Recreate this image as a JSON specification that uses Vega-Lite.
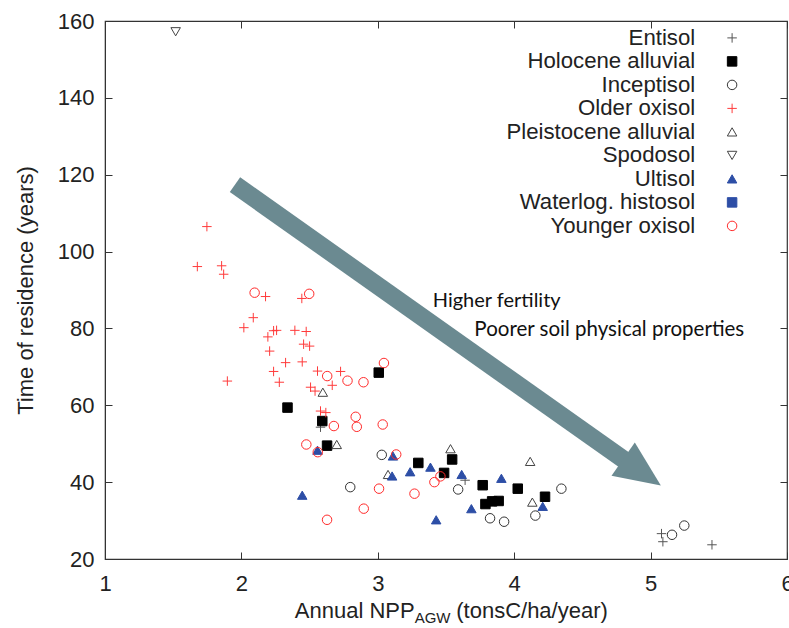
{
  "$schema": "https://vega.github.io/schema/vega-lite/v6.json",
  "width": 682,
  "height": 538,
  "autosize": {"type": "none"},
  "padding": {"left": 105, "top": 21, "right": 2, "bottom": 69},
  "background": "white",
  "config": {
    "view": {"stroke": "#333", "strokeWidth": 1.2},
    "font": "Liberation Sans",
    "axis": {
      "labelFont": "Liberation Sans", "labelFontSize": 22, "labelColor": "#222",
      "titleFont": "Liberation Sans", "titleFontSize": 22, "titleFontWeight": "normal", "titleColor": "#222",
      "domainColor": "#333", "tickColor": "#333", "grid": false, "labelFlush": false, "labelOverlap": false
    },
    "legend": {
      "orient": "none", "legendX": 616, "legendY": 5.8, "title": null,
      "labelAlign": "right", "labelOffset": -48, "labelFont": "Liberation Sans", "labelFontSize": 22.2,
      "labelColor": "#222", "rowPadding": 0.5, "symbolSize": 90, "symbolStrokeWidth": 1, "padding": 0, "labelLimit": 400
    }
  },
  "datasets": {
    "soils": [
      {"soil": "Entisol", "npp": 2.58, "tr": 54.3},
      {"soil": "Entisol", "npp": 3.64, "tr": 40.5},
      {"soil": "Entisol", "npp": 5.08, "tr": 26.6},
      {"soil": "Entisol", "npp": 5.09, "tr": 24.5},
      {"soil": "Entisol", "npp": 5.45, "tr": 23.7},
      {"soil": "Holocene alluvial", "npp": 2.338, "tr": 59.4},
      {"soil": "Holocene alluvial", "npp": 2.593, "tr": 55.9},
      {"soil": "Holocene alluvial", "npp": 2.628, "tr": 49.5},
      {"soil": "Holocene alluvial", "npp": 3.007, "tr": 68.5},
      {"soil": "Holocene alluvial", "npp": 3.297, "tr": 45.0},
      {"soil": "Holocene alluvial", "npp": 3.545, "tr": 45.9},
      {"soil": "Holocene alluvial", "npp": 3.486, "tr": 42.4},
      {"soil": "Holocene alluvial", "npp": 3.769, "tr": 39.2},
      {"soil": "Holocene alluvial", "npp": 4.026, "tr": 38.3},
      {"soil": "Holocene alluvial", "npp": 4.226, "tr": 36.2},
      {"soil": "Holocene alluvial", "npp": 3.789, "tr": 34.3},
      {"soil": "Holocene alluvial", "npp": 3.838, "tr": 35.0},
      {"soil": "Holocene alluvial", "npp": 3.886, "tr": 35.1},
      {"soil": "Inceptisol", "npp": 3.029, "tr": 47.1},
      {"soil": "Inceptisol", "npp": 2.798, "tr": 38.7},
      {"soil": "Inceptisol", "npp": 3.589, "tr": 38.1},
      {"soil": "Inceptisol", "npp": 4.346, "tr": 38.3},
      {"soil": "Inceptisol", "npp": 4.155, "tr": 31.3},
      {"soil": "Inceptisol", "npp": 3.823, "tr": 30.6},
      {"soil": "Inceptisol", "npp": 3.926, "tr": 29.7},
      {"soil": "Inceptisol", "npp": 5.157, "tr": 26.3},
      {"soil": "Inceptisol", "npp": 5.247, "tr": 28.7},
      {"soil": "Older oxisol", "npp": 1.747, "tr": 106.5},
      {"soil": "Older oxisol", "npp": 1.677, "tr": 96.1},
      {"soil": "Older oxisol", "npp": 1.855, "tr": 96.3},
      {"soil": "Older oxisol", "npp": 1.87, "tr": 94.1},
      {"soil": "Older oxisol", "npp": 2.177, "tr": 88.3},
      {"soil": "Older oxisol", "npp": 2.443, "tr": 87.8},
      {"soil": "Older oxisol", "npp": 2.087, "tr": 82.8},
      {"soil": "Older oxisol", "npp": 2.018, "tr": 80.2},
      {"soil": "Older oxisol", "npp": 2.236, "tr": 79.4},
      {"soil": "Older oxisol", "npp": 2.258, "tr": 79.5},
      {"soil": "Older oxisol", "npp": 2.392, "tr": 79.5},
      {"soil": "Older oxisol", "npp": 2.475, "tr": 79.2},
      {"soil": "Older oxisol", "npp": 2.194, "tr": 77.8},
      {"soil": "Older oxisol", "npp": 2.456, "tr": 75.9},
      {"soil": "Older oxisol", "npp": 2.5, "tr": 75.4},
      {"soil": "Older oxisol", "npp": 2.207, "tr": 74.1},
      {"soil": "Older oxisol", "npp": 2.324, "tr": 71.1},
      {"soil": "Older oxisol", "npp": 2.446, "tr": 71.3},
      {"soil": "Older oxisol", "npp": 2.236, "tr": 68.8},
      {"soil": "Older oxisol", "npp": 2.558, "tr": 68.9},
      {"soil": "Older oxisol", "npp": 2.727, "tr": 68.8},
      {"soil": "Older oxisol", "npp": 1.897, "tr": 66.3},
      {"soil": "Older oxisol", "npp": 2.278, "tr": 66.0},
      {"soil": "Older oxisol", "npp": 2.666, "tr": 65.2},
      {"soil": "Older oxisol", "npp": 2.507, "tr": 64.7},
      {"soil": "Older oxisol", "npp": 2.54, "tr": 63.7},
      {"soil": "Older oxisol", "npp": 2.58, "tr": 58.5},
      {"soil": "Older oxisol", "npp": 2.619, "tr": 58.1},
      {"soil": "Pleistocene alluvial", "npp": 2.597, "tr": 63.4},
      {"soil": "Pleistocene alluvial", "npp": 2.699, "tr": 49.8},
      {"soil": "Pleistocene alluvial", "npp": 3.075, "tr": 42.0},
      {"soil": "Pleistocene alluvial", "npp": 3.533, "tr": 48.7},
      {"soil": "Pleistocene alluvial", "npp": 4.117, "tr": 45.4},
      {"soil": "Pleistocene alluvial", "npp": 4.133, "tr": 34.8},
      {"soil": "Spodosol", "npp": 1.518, "tr": 157.2},
      {"soil": "Ultisol", "npp": 2.446, "tr": 36.6},
      {"soil": "Ultisol", "npp": 2.558, "tr": 48.3},
      {"soil": "Ultisol", "npp": 3.111, "tr": 46.8},
      {"soil": "Ultisol", "npp": 3.105, "tr": 41.6},
      {"soil": "Ultisol", "npp": 3.237, "tr": 42.7},
      {"soil": "Ultisol", "npp": 3.386, "tr": 43.9},
      {"soil": "Ultisol", "npp": 3.615, "tr": 42.0},
      {"soil": "Ultisol", "npp": 3.906, "tr": 41.0},
      {"soil": "Ultisol", "npp": 3.686, "tr": 33.1},
      {"soil": "Ultisol", "npp": 4.209, "tr": 33.7},
      {"soil": "Ultisol", "npp": 3.428, "tr": 30.2},
      {"soil": "Younger oxisol", "npp": 2.097, "tr": 89.3},
      {"soil": "Younger oxisol", "npp": 2.497, "tr": 89.0},
      {"soil": "Younger oxisol", "npp": 2.629, "tr": 67.6},
      {"soil": "Younger oxisol", "npp": 2.778, "tr": 66.4},
      {"soil": "Younger oxisol", "npp": 2.895, "tr": 66.0},
      {"soil": "Younger oxisol", "npp": 3.045, "tr": 71.0},
      {"soil": "Younger oxisol", "npp": 2.838, "tr": 57.0},
      {"soil": "Younger oxisol", "npp": 2.846, "tr": 54.4},
      {"soil": "Younger oxisol", "npp": 2.678, "tr": 54.6},
      {"soil": "Younger oxisol", "npp": 3.036, "tr": 55.0},
      {"soil": "Younger oxisol", "npp": 2.476, "tr": 49.8},
      {"soil": "Younger oxisol", "npp": 2.56, "tr": 47.8},
      {"soil": "Younger oxisol", "npp": 3.135, "tr": 47.2},
      {"soil": "Younger oxisol", "npp": 3.009, "tr": 38.3},
      {"soil": "Younger oxisol", "npp": 3.269, "tr": 37.0},
      {"soil": "Younger oxisol", "npp": 2.897, "tr": 33.1},
      {"soil": "Younger oxisol", "npp": 2.628, "tr": 30.2},
      {"soil": "Younger oxisol", "npp": 3.459, "tr": 41.5},
      {"soil": "Younger oxisol", "npp": 3.415, "tr": 40.0}
    ]
  },
  "layer": [
    {
      "data": {"values": [{}]},
      "mark": {"type": "rule", "strokeWidth": 18, "color": "#6b8a91", "strokeCap": "butt"},
      "encoding": {
        "x": {"datum": 1.953, "type": "quantitative", "axis": {"orient": "top", "labels": false, "domain": false, "title": null, "tickSize": -7, "values": [1, 2, 3, 4, 5, 6]}},
        "y": {"datum": 117.4, "type": "quantitative", "axis": {"orient": "right", "labels": false, "domain": false, "title": null, "tickSize": -7, "values": [20, 40, 60, 80, 100, 120, 140, 160]}},
        "x2": {"datum": 4.81},
        "y2": {"datum": 45.7}
      }
    },
    {
      "data": {"values": [{}]},
      "mark": {"type": "point", "shape": "M1,0L-1,-0.883L-1,0.883Z", "size": 2116, "angle": 35, "filled": true, "color": "#6b8a91", "opacity": 1, "strokeWidth": 0},
      "encoding": {
        "x": {"datum": 4.937, "type": "quantitative", "axis": null},
        "y": {"datum": 42.54, "type": "quantitative", "axis": null}
      }
    },
    {
      "data": {"values": [{}]},
      "mark": {"type": "text", "text": "Higher fertility", "font": "Lato", "fontSize": 20, "align": "left", "baseline": "alphabetic", "color": "#111"},
      "encoding": {
        "x": {"datum": 3.403, "type": "quantitative", "axis": null},
        "y": {"datum": 85.7, "type": "quantitative", "axis": null}
      }
    },
    {
      "data": {"values": [{}]},
      "mark": {"type": "text", "text": "Poorer soil physical properties", "font": "Lato", "fontSize": 20.5, "align": "left", "baseline": "alphabetic", "color": "#111"},
      "encoding": {
        "x": {"datum": 3.708, "type": "quantitative", "axis": null},
        "y": {"datum": 78.0, "type": "quantitative", "axis": null}
      }
    },
    {
      "data": {"values": [{}]},
      "mark": {"type": "text", "text": "Annual NPP", "font": "Liberation Sans", "fontSize": 22, "align": "right", "baseline": "alphabetic", "color": "#222"},
      "encoding": {
        "x": {"datum": 3.27, "type": "quantitative", "axis": null},
        "y": {"datum": 4.7, "type": "quantitative", "axis": null}
      }
    },
    {
      "data": {"values": [{}]},
      "mark": {"type": "text", "text": "AGW", "font": "Liberation Sans", "fontSize": 15, "align": "left", "baseline": "alphabetic", "color": "#222"},
      "encoding": {
        "x": {"datum": 3.27, "type": "quantitative", "axis": null},
        "y": {"datum": 3.4, "type": "quantitative", "axis": null}
      }
    },
    {
      "data": {"values": [{}]},
      "mark": {"type": "text", "text": "(tonsC/ha/year)", "font": "Liberation Sans", "fontSize": 22, "align": "left", "baseline": "alphabetic", "color": "#222"},
      "encoding": {
        "x": {"datum": 3.575, "type": "quantitative", "axis": null},
        "y": {"datum": 4.7, "type": "quantitative", "axis": null}
      }
    },
    {
      "data": {"name": "soils"},
      "mark": {"type": "point", "strokeWidth": 1, "opacity": 1, "size": 90},
      "encoding": {
        "x": {"field": "npp", "type": "quantitative", "title": null,
          "scale": {"domain": [1, 6], "nice": false, "zero": false},
          "axis": {"orient": "bottom", "values": [1, 2, 3, 4, 5, 6], "tickSize": -7, "labelPadding": 21}},
        "y": {"field": "tr", "type": "quantitative", "title": "Time of residence (years)",
          "scale": {"domain": [20, 160], "nice": false, "zero": false},
          "axis": {"orient": "left", "values": [20, 40, 60, 80, 100, 120, 140, 160], "tickSize": -7, "labelPadding": 18, "titlePadding": 20}},
        "shape": {"field": "soil", "type": "nominal",
          "scale": {"domain": ["Entisol", "Holocene alluvial", "Inceptisol", "Older oxisol", "Pleistocene alluvial", "Spodosol", "Ultisol", "Waterlog. histosol", "Younger oxisol"],
            "range": ["M-1,0H1M0,-1V1", "square", "circle", "M-1,0H1M0,-1V1", "triangle-up", "triangle-down", "triangle-up", "square", "circle"]}},
        "stroke": {"field": "soil", "type": "nominal",
          "scale": {"domain": ["Entisol", "Holocene alluvial", "Inceptisol", "Older oxisol", "Pleistocene alluvial", "Spodosol", "Ultisol", "Waterlog. histosol", "Younger oxisol"],
            "range": ["#555555", "#000000", "#333333", "#ff3b3b", "#444444", "#444444", "#2d4ea6", "#2d4ea6", "#ff2a2a"]}},
        "fill": {"field": "soil", "type": "nominal",
          "scale": {"domain": ["Entisol", "Holocene alluvial", "Inceptisol", "Older oxisol", "Pleistocene alluvial", "Spodosol", "Ultisol", "Waterlog. histosol", "Younger oxisol"],
            "range": ["transparent", "#000000", "transparent", "transparent", "transparent", "transparent", "#2d4ea6", "#2d4ea6", "transparent"]}}
      }
    }
  ],
  "resolve": {"axis": {"x": "independent", "y": "independent"}}
}
